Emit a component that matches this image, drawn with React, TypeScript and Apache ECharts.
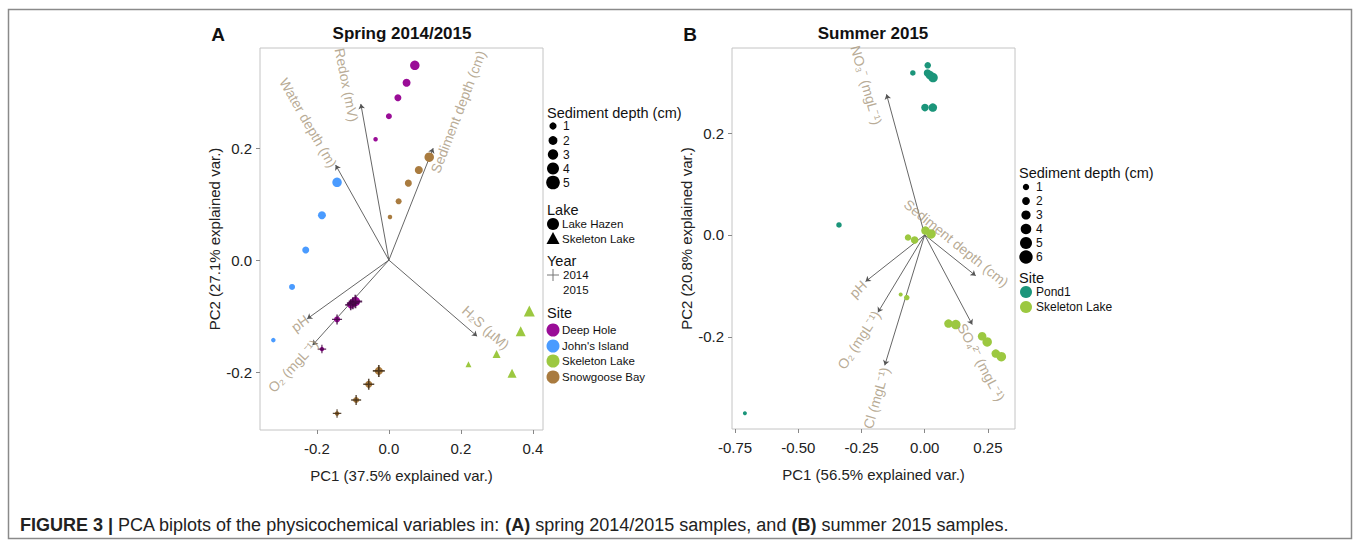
import React, { useEffect, useRef } from "react";
import * as echarts from "echarts";

// ---------- Panel A: Spring 2014/2015 ----------
// [PC1, PC2, sediment depth (cm)]
const deepHole2015 = [[0.072, 0.348, 5], [0.049, 0.317, 4], [0.025, 0.29, 3], [0.0, 0.257, 2], [-0.037, 0.216, 1]];
const snowgoose2015 = [[0.112, 0.184, 5], [0.083, 0.161, 4], [0.054, 0.1375, 3], [0.027, 0.105, 2], [0.003, 0.077, 1]];
const johnsIsland2015 = [[-0.144, 0.139, 5], [-0.186, 0.08, 4], [-0.231, 0.018, 3], [-0.269, -0.048, 2], [-0.321, -0.143, 1]];
const deepHole2014 = [[-0.093, -0.074, 5], [-0.1, -0.077, 4], [-0.106, -0.08, 3], [-0.144, -0.106, 2], [-0.186, -0.159, 1]];
const snowgoose2014 = [[-0.028, -0.198, 4], [-0.056, -0.222, 3], [-0.091, -0.25, 2], [-0.144, -0.274, 1]];
const skeletonSpring = [[0.39, -0.091, 5], [0.366, -0.127, 4], [0.342, -0.202, 3], [0.299, -0.168, 2], [0.221, -0.186, 1]];

const springVariables = ["Redox (mV)", "Water depth (m)", "Sediment depth (cm)", "pH", "O₂ (mgL⁻¹)", "H₂S (µM)"];
const springLoadings = [[-0.078, 0.279], [-0.148, 0.17], [0.123, 0.2], [-0.227, -0.105], [-0.212, -0.152], [0.245, -0.136]];
const springLabelAnchors = [[-0.1175, 0.313], [-0.224, 0.2455], [0.1925, 0.265], [-0.247, -0.113], [-0.266, -0.189], [0.269, -0.1205]];
const springLabelAngles = [-79, -60, 69, 36, 47, -42];

const springXTicks = [-0.2, 0.0, 0.2, 0.4];
const springYTicks = [-0.2, 0.0, 0.2];

const springDepthLevels = ["1", "2", "3", "4", "5"];
const springLakes = ["Lake Hazen", "Skeleton Lake"];
const springYears = ["2014", "2015"];
const springSites = ["Deep Hole", "John's Island", "Skeleton Lake", "Snowgoose Bay"];

// ---------- Panel B: Summer 2015 ----------
const pond1 = [[-0.711, -0.35, 1], [-0.339, 0.0196, 2], [-0.047, 0.318, 2], [0.012, 0.333, 3], [0.011, 0.318, 4], [0.02, 0.314, 5], [0.033, 0.309, 6], [0.001, 0.25, 4], [0.032, 0.25, 5]];
const skeletonSummer = [[-0.095, -0.117, 1], [-0.071, -0.123, 2], [-0.066, -0.005, 3], [-0.04, -0.01, 4], [0.003, 0.0085, 5], [0.025, 0.002, 6], [0.094, -0.174, 5], [0.123, -0.176, 6], [0.227, -0.199, 5], [0.247, -0.21, 6], [0.281, -0.233, 5], [0.303, -0.239, 6]];

const summerVariables = ["NO₃⁻ (mgL⁻¹)", "Sediment depth (cm)", "pH", "O₂ (mgL⁻¹)", "Cl (mgL⁻¹)", "SO₄²⁻ (mgL⁻¹)"];
const summerLoadings = [[-0.151, 0.276], [0.2016, -0.08], [-0.234, -0.0915], [-0.185, -0.152], [-0.158, -0.256], [0.188, -0.176]];
const summerLabelAnchors = [[-0.2305, 0.294], [0.125, -0.0163], [-0.2636, -0.1065], [-0.26, -0.206], [-0.191, -0.32], [0.224, -0.25]];
const summerLabelAngles = [-74, -39, 45, 57, 74, -62];

const summerXTicks = [-0.75, -0.5, -0.25, 0.0, 0.25];
const summerYTicks = [-0.2, 0.0, 0.2];

const summerDepthLevels = ["1", "2", "3", "4", "5", "6"];
const summerSites = ["Pond1", "Skeleton Lake"];

// ---------- styles ----------
const COL = {
  "Deep Hole": "#9a0d97",
  "John's Island": "#4a9bff",
  "Skeleton Lake": "#9cc840",
  "Snowgoose Bay": "#a97b3f",
  Pond1: "#1b957a",
};
const PLUS_COL = { "Deep Hole": "#3f0540", "Snowgoose Bay": "#3e2a14" };
const sizeA = { 1: 4.5, 2: 6, 3: 7, 4: 8, 5: 9.5 };
const sizeB = { 1: 4, 2: 5.5, 3: 6.5, 4: 7.5, 5: 8.5, 6: 9.5 };
const FONT = '"Liberation Sans", Arial, Helvetica, sans-serif';
const LABEL_COL = "#a6957a";
const PLUS_PATH = "path://M4.3,0H5.7V4.3H10V5.7H5.7V10H4.3V5.7H0V4.3H4.3Z";

function txt(text, x, y, size, opts = {}) {
  return {
    type: "text",
    x,
    y,
    silent: true,
    style: {
      text,
      fill: opts.fill || "#111",
      font: `${opts.bold ? "bold " : ""}${size}px ${FONT}`,
      align: opts.align || "left",
      verticalAlign: "middle",
    },
  };
}

function dot(cx, cy, r, fill) {
  return { type: "circle", silent: true, shape: { cx, cy, r }, style: { fill } };
}

function buildOption() {
  const axisCommon = {
    type: "value",
    splitLine: { show: false },
    axisLine: { show: false, onZero: false },
    axisTick: { show: true, length: 4, lineStyle: { color: "#888" } },
    nameLocation: "middle",
    nameTextStyle: { fontFamily: FONT, fontSize: 15, color: "#222" },
  };
  const lbl = (digits, ticks, margin) => ({
    customValues: ticks,
    fontFamily: FONT,
    fontSize: 15,
    color: "#222",
    margin,
    formatter: (v) => Number(v).toFixed(digits),
  });

  const scatter = (xi, data, color, sizes, symbol = "circle") => ({
    type: "scatter",
    xAxisIndex: xi,
    yAxisIndex: xi,
    symbol,
    symbolSize: (v) => sizes[v[2]],
    itemStyle: { color, opacity: 1 },
    data,
    silent: true,
    z: 4,
  });
  const plus = (xi, data, color, sizes) => ({
    type: "scatter",
    xAxisIndex: xi,
    yAxisIndex: xi,
    symbol: PLUS_PATH,
    symbolSize: (v) => sizes[v[2]] + 4,
    itemStyle: { color, opacity: 0.85 },
    data,
    silent: true,
    z: 5,
  });
  const arrows = (xi, loadings) => ({
    type: "lines",
    coordinateSystem: "cartesian2d",
    xAxisIndex: xi,
    yAxisIndex: xi,
    symbol: ["none", "arrow"],
    symbolSize: 5,
    lineStyle: { color: "#555", width: 0.9, opacity: 1 },
    data: loadings.map((p) => ({ coords: [[0, 0], p] })),
    silent: true,
    z: 3,
  });
  const varLabels = (xi, names, anchors, angles) => ({
    type: "scatter",
    xAxisIndex: xi,
    yAxisIndex: xi,
    symbolSize: 0,
    silent: true,
    z: 6,
    label: { show: true, position: "inside", formatter: "{b}", color: LABEL_COL, fontFamily: FONT, fontSize: 14 },
    data: names.map((n, i) => ({ name: n, value: anchors[i], label: { rotate: angles[i] } })),
  });

  // ---- frame, titles, legends ----
  const g = [];
  g.push({ type: "rect", silent: true, shape: { x: 8.5, y: 9.5, width: 1343, height: 529 }, style: { fill: "none", stroke: "#8a8a8a", lineWidth: 1.5 } });
  g.push(txt("A", 218, 34, 19, { bold: true, align: "center" }));
  g.push(txt("B", 690, 34, 19, { bold: true, align: "center" }));
  g.push(txt("Spring 2014/2015", 402, 33, 17, { bold: true, align: "center" }));
  g.push(txt("Summer 2015", 873, 33, 17, { bold: true, align: "center" }));

  // Legend A
  const aLx = 553;
  g.push(txt("Sediment depth (cm)", 547, 113, 14.5));
  const aDepthY = [126, 140.5, 154.5, 168.5, 182.5];
  springDepthLevels.forEach((d, i) => {
    g.push(dot(aLx, aDepthY[i], 3.6 + i * 0.8, "#000"));
    g.push(txt(d, 563, aDepthY[i], 12));
  });
  g.push(txt("Lake", 547, 210, 14.5));
  g.push(dot(aLx, 224, 6, "#000"));
  g.push(txt(springLakes[0], 562, 224, 11.5));
  g.push({ type: "polygon", silent: true, shape: { points: [[aLx, 232], [aLx - 6.5, 244], [aLx + 6.5, 244]] }, style: { fill: "#000" } });
  g.push(txt(springLakes[1], 562, 239, 11.5));
  g.push(txt("Year", 547, 261, 14.5));
  g.push({ type: "line", silent: true, shape: { x1: aLx - 6, y1: 275, x2: aLx + 6, y2: 275 }, style: { stroke: "#777", lineWidth: 1 } });
  g.push({ type: "line", silent: true, shape: { x1: aLx, y1: 269, x2: aLx, y2: 281 }, style: { stroke: "#777", lineWidth: 1 } });
  g.push(txt(springYears[0], 563, 275, 11.5));
  g.push(txt(springYears[1], 563, 290, 11.5));
  g.push(txt("Site", 547, 313, 14.5));
  const aSiteY = [330, 346, 361, 377];
  springSites.forEach((s, i) => {
    g.push(dot(aLx, aSiteY[i], 6.5, COL[s]));
    g.push(txt(s, 562, aSiteY[i], 11.5));
  });

  // Legend B
  const bLx = 1026;
  g.push(txt("Sediment depth (cm)", 1019, 173, 14.5));
  summerDepthLevels.forEach((d, i) => {
    const y = 187 + i * 14;
    g.push(dot(bLx, y, 3.2 + i * 0.7, "#000"));
    g.push(txt(d, 1036, y, 12));
  });
  g.push(txt("Site", 1019, 278, 14.5));
  summerSites.forEach((s, i) => {
    const y = 292 + i * 15;
    g.push(dot(bLx, y, 6, s === "Pond1" ? COL.Pond1 : COL["Skeleton Lake"]));
    g.push(txt(s, 1036, y, 12));
  });

  // Caption
  g.push({
    type: "text",
    x: 20,
    y: 525,
    silent: true,
    style: {
      text: "{b|FIGURE 3 |} PCA biplots of the physicochemical variables in: {b|(A)} spring 2014/2015 samples, and {b|(B)} summer 2015 samples.",
      font: `18px ${FONT}`,
      fill: "#222",
      verticalAlign: "middle",
      rich: { b: { fontWeight: "bold", fontSize: 18, fontFamily: FONT, fill: "#222" } },
    },
  });

  return {
    animation: false,
    backgroundColor: "#fff",
    grid: [
      { left: 260, top: 48, width: 283, height: 382, show: true, borderColor: "#c4c4c4", borderWidth: 1, backgroundColor: "transparent" },
      { left: 732, top: 48, width: 283, height: 381, show: true, borderColor: "#c4c4c4", borderWidth: 1, backgroundColor: "transparent" },
    ],
    xAxis: [
      { ...axisCommon, gridIndex: 0, min: -0.358, max: 0.428, name: "PC1 (37.5% explained var.)", nameGap: 38, axisTick: { ...axisCommon.axisTick, customValues: springXTicks }, axisLabel: lbl(1, springXTicks, 11) },
      { ...axisCommon, gridIndex: 1, min: -0.762, max: 0.357, name: "PC1 (56.5% explained var.)", nameGap: 38, axisTick: { ...axisCommon.axisTick, customValues: summerXTicks }, axisLabel: lbl(2, summerXTicks, 11) },
    ],
    yAxis: [
      { ...axisCommon, gridIndex: 0, min: -0.3036, max: 0.379, name: "PC2 (27.1% explained var.)", nameGap: 34, axisTick: { ...axisCommon.axisTick, customValues: springYTicks }, axisLabel: lbl(1, springYTicks, 8) },
      { ...axisCommon, gridIndex: 1, min: -0.381, max: 0.367, name: "PC2 (20.8% explained var.)", nameGap: 34, axisTick: { ...axisCommon.axisTick, customValues: summerYTicks }, axisLabel: lbl(1, summerYTicks, 8) },
    ],
    graphic: { elements: g },
    series: [
      arrows(0, springLoadings),
      scatter(0, deepHole2015, COL["Deep Hole"], sizeA),
      scatter(0, snowgoose2015, COL["Snowgoose Bay"], sizeA),
      scatter(0, johnsIsland2015, COL["John's Island"], sizeA),
      scatter(0, deepHole2014, COL["Deep Hole"], sizeA),
      plus(0, deepHole2014, PLUS_COL["Deep Hole"], sizeA),
      scatter(0, snowgoose2014, COL["Snowgoose Bay"], sizeA),
      plus(0, snowgoose2014, PLUS_COL["Snowgoose Bay"], sizeA),
      scatter(0, skeletonSpring, COL["Skeleton Lake"], { 1: 6, 2: 8, 3: 9, 4: 10, 5: 11 }, "triangle"),
      varLabels(0, springVariables, springLabelAnchors, springLabelAngles),
      arrows(1, summerLoadings),
      scatter(1, pond1, COL.Pond1, sizeB),
      scatter(1, skeletonSummer, COL["Skeleton Lake"], sizeB),
      varLabels(1, summerVariables, summerLabelAnchors, summerLabelAngles),
    ],
  };
}

export default function App() {
  const ref = useRef(null);
  useEffect(() => {
    const chart = echarts.init(ref.current, null, { renderer: "svg" });
    chart.setOption(buildOption());
    return () => chart.dispose();
  }, []);
  return <div ref={ref} style={{ position: "fixed", left: 0, top: 0, width: 1360, height: 540, background: "#fff" }} />;
}
